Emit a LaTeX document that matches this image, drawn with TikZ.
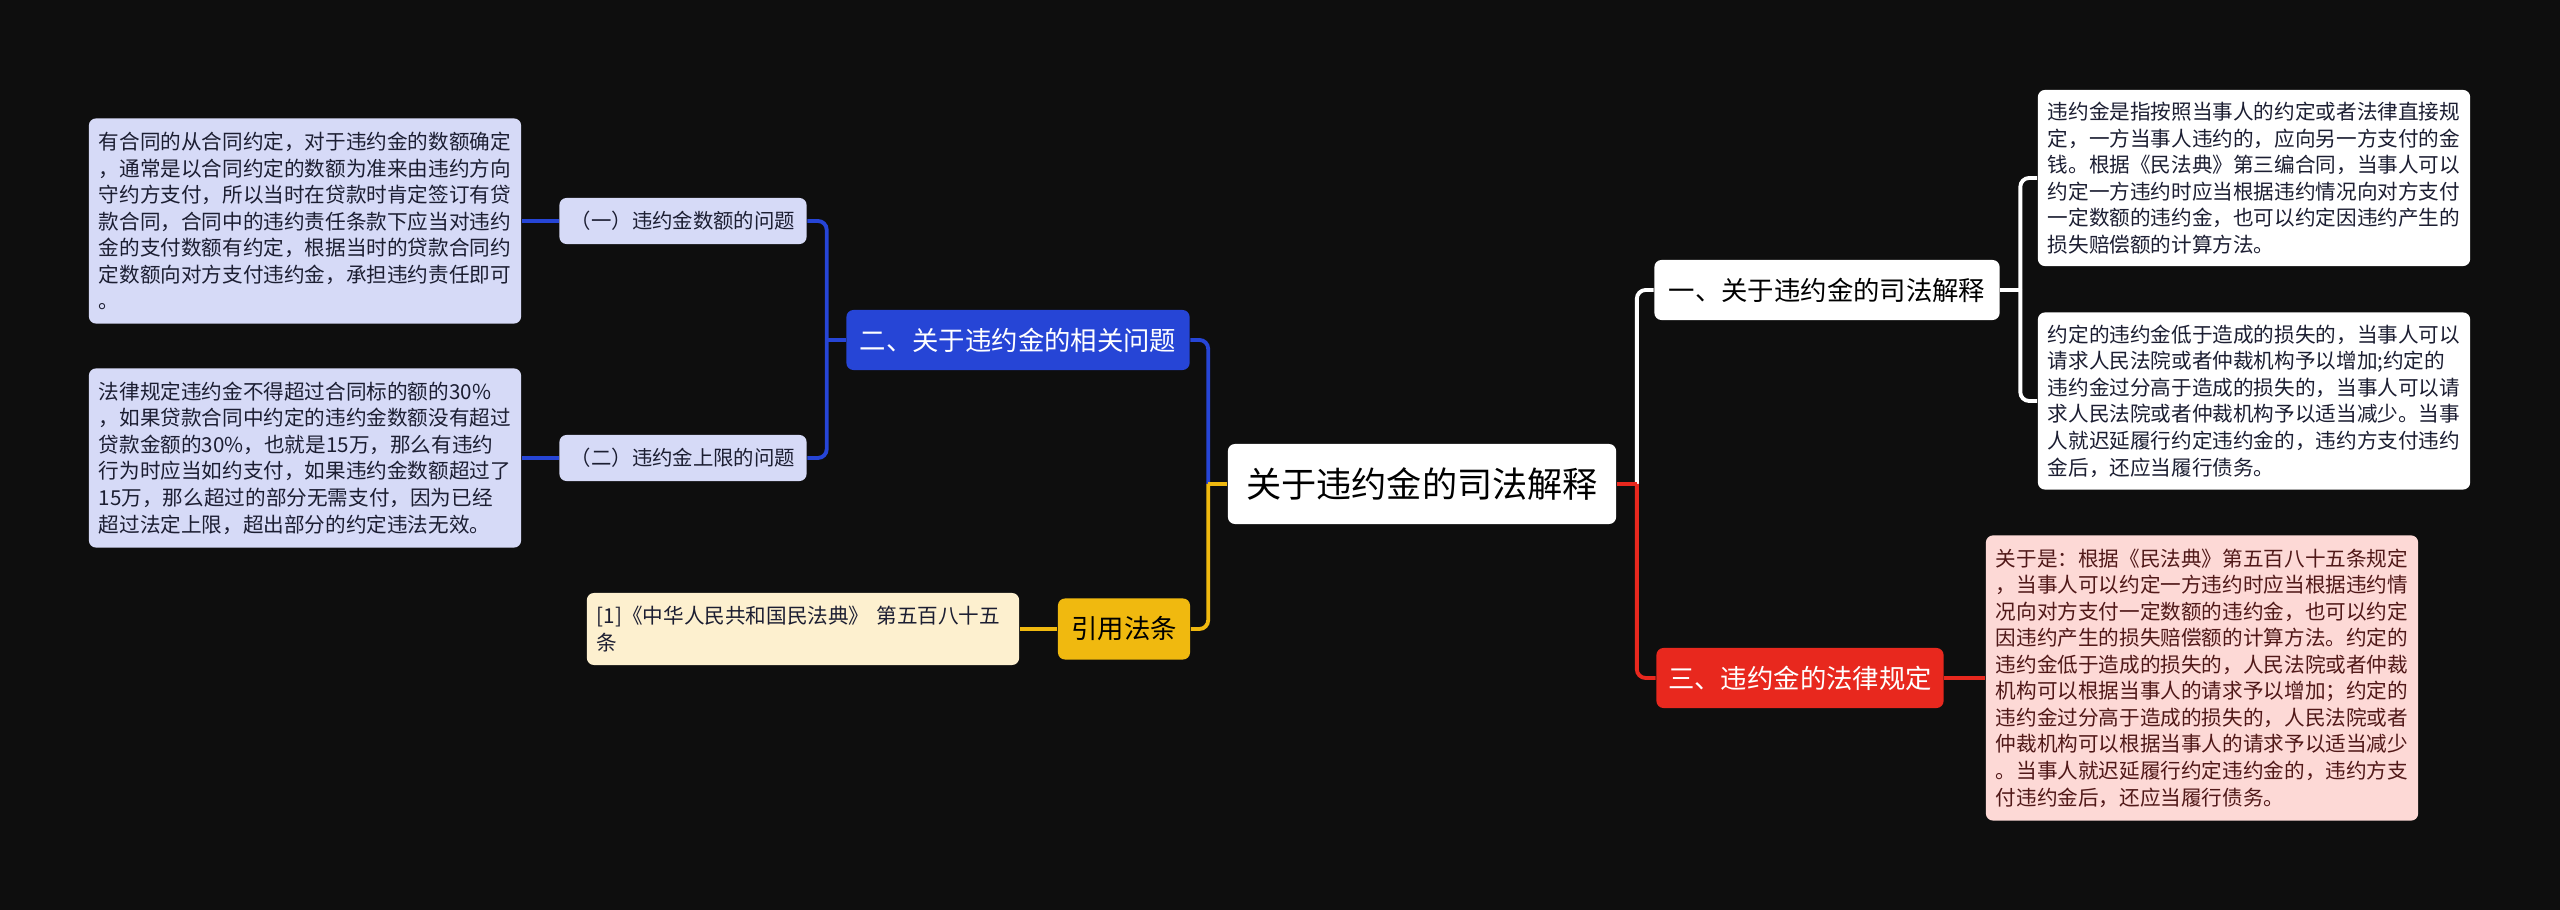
\documentclass[tikz,border=0pt]{standalone}
\usepackage{fontspec}
\setmainfont{Noto Sans CJK SC}
\usetikzlibrary{positioning, calc}
\definecolor{mapbg}{RGB}{14,14,14}
\definecolor{mapblue}{RGB}{38,69,214}
\definecolor{maplav}{RGB}{214,218,247}
\definecolor{mapred}{RGB}{232,40,30}
\definecolor{mappink}{RGB}{253,217,214}
\definecolor{mapyellow}{RGB}{240,185,15}
\definecolor{mapcream}{RGB}{253,240,207}
\definecolor{mapink}{RGB}{28,30,50}
\definecolor{mapbrown}{RGB}{80,24,24}

\begin{document}
\begin{tikzpicture}[x=0.01cm, y=-0.01cm,
    mapbox/.style={rounded corners=2pt, inner sep=0pt, align=center},
    textbox/.style={mapbox, align=left, inner xsep=0.1cm, text width=4.12cm, font=\fontsize{5.86pt}{7.55pt}\selectfont},
    topicbox/.style={mapbox, minimum height=0.6cm, font=\fontsize{7.5pt}{9pt}\selectfont},
    subbox/.style={mapbox, fill=maplav, text=mapink, minimum width=2.47cm, minimum height=0.46cm, font=\fontsize{5.8pt}{7pt}\selectfont},
    linkline/.style={line width=1.1pt, rounded corners=2.5pt}]
    % Background
    \fill[mapbg] (0,0) rectangle (2560,910);
    % Root
    \node[mapbox, fill=white, text=black, minimum width=3.88cm, minimum height=0.8cm, font=\fontsize{10pt}{12pt}\selectfont] (root) at (1422,484) {关于违约金的司法解释};
    % Right branch
    \node[topicbox, fill=white, text=black, minimum width=3.45cm] (one) at (1827,290) {一、关于违约金的司法解释};
    \node[textbox, fill=white, text=mapink, minimum height=1.76cm] (def) at (2254,178) {违约金是指按照当事人的约定或者法律直接规\\定，一方当事人违约的，应向另一方支付的金\\钱。根据《民法典》第三编合同，当事人可以\\约定一方违约时应当根据违约情况向对方支付\\一定数额的违约金，也可以约定因违约产生的\\损失赔偿额的计算方法。};
    \node[textbox, fill=white, text=mapink, minimum height=1.77cm] (adj) at (2254,401) {约定的违约金低于造成的损失的，当事人可以\\请求人民法院或者仲裁机构予以增加;约定的\\违约金过分高于造成的损失的，当事人可以请\\求人民法院或者仲裁机构予以适当减少。当事\\人就迟延履行约定违约金的，违约方支付违约\\金后，还应当履行债务。};
    \node[topicbox, fill=mapred, text=white, minimum width=2.87cm] (three) at (1800,678) {三、违约金的法律规定};
    \node[textbox, fill=mappink, text=mapbrown, minimum height=2.85cm] (rule) at (2202,678) {关于是：根据《民法典》第五百八十五条规定\\，当事人可以约定一方违约时应当根据违约情\\况向对方支付一定数额的违约金，也可以约定\\因违约产生的损失赔偿额的计算方法。约定的\\违约金低于造成的损失的，人民法院或者仲裁\\机构可以根据当事人的请求予以增加；约定的\\违约金过分高于造成的损失的，人民法院或者\\仲裁机构可以根据当事人的请求予以适当减少\\。当事人就迟延履行约定违约金的，违约方支\\付违约金后，还应当履行债务。};
    % Left branch
    \node[topicbox, fill=mapblue, text=white, minimum width=3.43cm] (two) at (1018,340) {二、关于违约金的相关问题};
    \node[subbox] (amt) at (683,221) {（一）违约金数额的问题};
    \node[subbox] (cap) at (683,458) {（二）违约金上限的问题};
    \node[textbox, fill=maplav, text=mapink, minimum height=2.05cm] (amttext) at (305,221) {有合同的从合同约定，对于违约金的数额确定\\，通常是以合同约定的数额为准来由违约方向\\守约方支付，所以当时在贷款时肯定签订有贷\\款合同，合同中的违约责任条款下应当对违约\\金的支付数额有约定，根据当时的贷款合同约\\定数额向对方支付违约金，承担违约责任即可\\。};
    \node[textbox, fill=maplav, text=mapink, minimum height=1.79cm] (captext) at (305,458) {法律规定违约金不得超过合同标的额的30\%\\，如果贷款合同中约定的违约金数额没有超过\\贷款金额的30\%，也就是15万，那么有违约\\行为时应当如约支付，如果违约金数额超过了\\15万，那么超过的部分无需支付，因为已经\\超过法定上限，超出部分的约定违法无效。};
    \node[topicbox, fill=mapyellow, text=black, minimum width=1.32cm, minimum height=0.61cm] (law) at (1124,629) {引用法条};
    \node[textbox, fill=mapcream, text=mapink, minimum height=0.72cm] (cite) at (803,629) {[1]《中华人民共和国民法典》 第五百八十五\\条};
    % Joints
    \coordinate (lj) at ([xshift=-0.19cm]root.west);
    \coordinate (rj) at ([xshift=0.2cm]root.east);
    \coordinate (oj) at ([xshift=0.2cm]one.east);
    \coordinate (tj) at ([xshift=-0.19cm]two.west);
    % Links
    \draw[linkline, mapblue] (two.east) -| (lj);
    \draw[linkline, mapyellow] (law.east) -| (lj);
    \draw[linkline, mapyellow] (root.west) -- (lj);
    \draw[linkline, white] (one.west) -| (rj);
    \draw[linkline, mapred] (three.west) -| (rj);
    \draw[linkline, mapred] (root.east) -- (rj);
    \draw[linkline, white] (def.west) -| (oj);
    \draw[linkline, white] (adj.west) -| (oj);
    \draw[linkline, white] (one.east) -- (oj);
    \draw[linkline, mapred] (three.east) -- (rule.west);
    \draw[linkline, mapblue] (amt.east) -| (tj);
    \draw[linkline, mapblue] (cap.east) -| (tj);
    \draw[linkline, mapblue] (two.west) -- (tj);
    \draw[linkline, mapblue] (amt.west) -- (amttext.east);
    \draw[linkline, mapblue] (cap.west) -- (captext.east);
    \draw[linkline, mapyellow] (law.west) -- (cite.east);
\end{tikzpicture}
\end{document}
